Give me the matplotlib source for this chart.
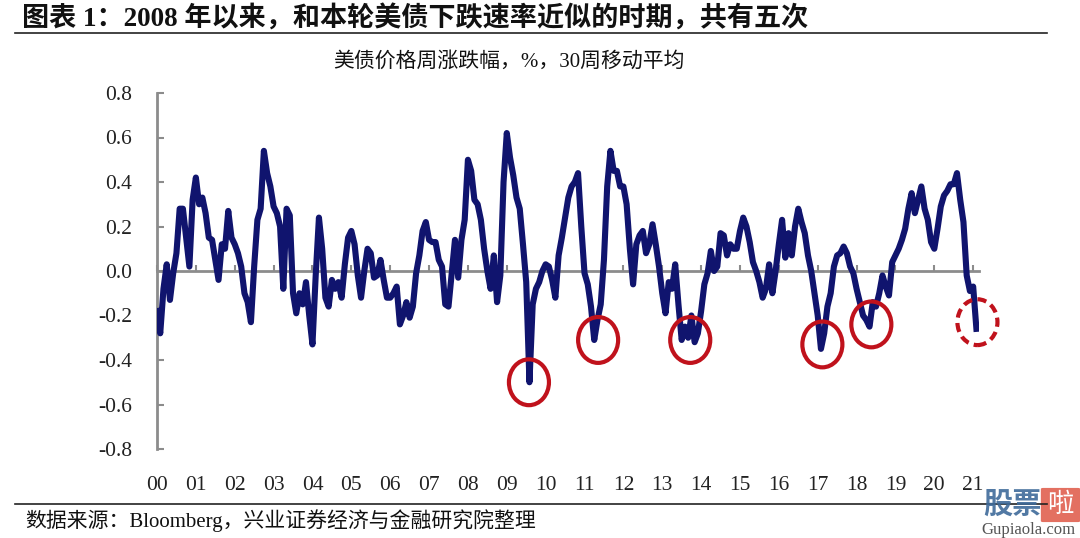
import numpy as np
import matplotlib.pyplot as plt
from matplotlib.patches import Ellipse, FancyBboxPatch
from matplotlib.lines import Line2D

plt.rcParams['font.family'] = ['Liberation Serif', 'Noto Sans CJK SC']
plt.rcParams['axes.unicode_minus'] = False

# 美债价格周涨跌幅 30周移动平均 (月度读数, 2000-01 起)
y2000 = [-0.18, -0.28, -0.08, 0.03, -0.13, -0.01, 0.08, 0.28, 0.28, 0.15, 0.02, 0.32]
y2001 = [0.42, 0.30, 0.33, 0.26, 0.15, 0.14, 0.05, -0.04, 0.12, 0.10, 0.27, 0.15]
y2002 = [0.12, 0.08, 0.02, -0.10, -0.14, -0.23, 0.02, 0.23, 0.28, 0.54, 0.44, 0.38]
y2003 = [0.29, 0.26, 0.20, -0.08, 0.28, 0.25, -0.10, -0.19, -0.10, -0.15, -0.05, -0.20]
y2004 = [-0.33, -0.02, 0.24, 0.10, -0.12, -0.16, -0.04, -0.08, -0.05, -0.12, 0.03, 0.15]
y2005 = [0.18, 0.12, -0.02, -0.12, 0.00, 0.10, 0.08, -0.03, -0.02, 0.05, -0.04, -0.12]
y2006 = [-0.12, -0.10, -0.07, -0.24, -0.20, -0.14, -0.21, -0.16, -0.01, 0.07, 0.18, 0.22]
y2007 = [0.14, 0.13, 0.13, 0.05, 0.02, -0.15, -0.16, -0.01, 0.14, -0.03, 0.14, 0.23]
y2008 = [0.50, 0.45, 0.32, 0.30, 0.23, 0.10, 0.00, -0.08, 0.07, -0.14, -0.02, 0.40]
y2009 = [0.62, 0.51, 0.43, 0.33, 0.28, 0.12, -0.05, -0.50, -0.15, -0.08, -0.05, 0.00]
y2010 = [0.03, 0.02, -0.04, -0.12, 0.07, 0.15, 0.24, 0.33, 0.38, 0.40, 0.44, 0.20]
y2011 = [-0.01, -0.06, -0.16, -0.31, -0.22, -0.15, 0.05, 0.38, 0.54, 0.45, 0.45, 0.38]
y2012 = [0.38, 0.30, 0.10, -0.06, 0.12, 0.16, 0.18, 0.08, 0.12, 0.21, 0.12, 0.02]
y2013 = [-0.10, -0.19, -0.05, -0.08, 0.03, -0.15, -0.31, -0.25, -0.30, -0.20, -0.32, -0.28]
y2014 = [-0.18, -0.06, -0.01, 0.09, 0.00, 0.02, 0.17, 0.16, 0.07, 0.12, 0.10, 0.10]
y2015 = [0.18, 0.24, 0.20, 0.13, 0.04, 0.00, -0.05, -0.12, -0.08, 0.03, -0.10, 0.00]
y2016 = [0.12, 0.23, 0.06, 0.17, 0.07, 0.20, 0.28, 0.22, 0.17, 0.07, 0.00, -0.10]
y2017 = [-0.20, -0.35, -0.28, -0.16, -0.10, 0.02, 0.07, 0.08, 0.11, 0.08, 0.02, -0.01]
y2018 = [-0.08, -0.14, -0.20, -0.22, -0.25, -0.14, -0.16, -0.10, -0.02, -0.07, -0.11, 0.04]
y2019 = [0.07, 0.10, 0.14, 0.19, 0.28, 0.35, 0.26, 0.32, 0.38, 0.28, 0.23, 0.13]
y2020 = [0.10, 0.19, 0.29, 0.34, 0.36, 0.39, 0.39, 0.44, 0.32, 0.22, -0.02, -0.09]
y2021 = [-0.07, -0.26]

vals = (y2000 + y2001 + y2002 + y2003 + y2004 + y2005 + y2006 + y2007 + y2008 + y2009 + y2010
        + y2011 + y2012 + y2013 + y2014 + y2015 + y2016 + y2017 + y2018 + y2019 + y2020 + y2021)
x = 2000 + np.arange(len(vals)) / 12

year_labels = ['%02d' % i for i in range(22)]
y_ticks = [-0.8, -0.6, -0.4, -0.2, 0.0, 0.2, 0.4, 0.6, 0.8]

# 红圈标注 (年份, 数值)
circles = [(2009.57, -0.50), (2011.35, -0.31), (2013.72, -0.31), (2017.12, -0.33), (2018.38, -0.24)]
circle_now = (2021.11, -0.23)

fig = plt.figure(figsize=(10.8, 5.38), dpi=100)
ax = fig.add_axes([157/1080, 89/538, 822/1080, 356/538])

navy = '#10146e'
red = '#c0121c'
grey = '#8c8c8c'

ax.plot(x, vals, color=navy, lw=4.4, solid_joinstyle='round', zorder=3)

for cx, cy in circles:
    ax.add_patch(Ellipse((cx, cy), 1.03, 0.206, fill=False, ec=red, lw=3, zorder=4, clip_on=False))
ax.add_patch(Ellipse(circle_now, 1.03, 0.206, fill=False, ec=red, lw=3,
                     ls=(0, (2.2, 1.3)), zorder=4, clip_on=False))

ax.set_xlim(2000, 2021.15)
ax.set_ylim(-0.8, 0.8)
ax.set_yticks(y_ticks)
ax.set_yticklabels(['%.1f' % v for v in y_ticks])

for s in ['top', 'right']:
    ax.spines[s].set_visible(False)
ax.spines['left'].set_color(grey)
ax.spines['left'].set_linewidth(2)
ax.spines['bottom'].set_position(('data', 0))
ax.spines['bottom'].set_color(grey)
ax.spines['bottom'].set_linewidth(2)
ax.spines['bottom'].set_zorder(2)

ax.tick_params(axis='y', direction='in', length=5, width=1.5, color=grey,
               labelsize=15.5, pad=18, labelcolor='#222222')
ax.set_xticks(np.arange(2000, 2022))
ax.tick_params(axis='x', direction='in', length=4, width=1.5, color=grey, labelbottom=False)

sec = ax.secondary_xaxis(-0.076)
sec.set_xticks(np.arange(2000, 2022))
sec.set_xticklabels(year_labels)
sec.tick_params(length=0, labelsize=15.5, labelcolor='#222222', pad=0)
sec.spines['bottom'].set_visible(False)

fig.text(22/1080, 1 - 19/538, '图表 1：2008 年以来，和本轮美债下跌速率近似的时期，共有五次',
         fontsize=19.5, fontweight='bold', va='center', ha='left', color='#111111')
fig.add_artist(Line2D([15/1080, 1047/1080], [1 - 33/538] * 2, color='#222222', lw=1.2))
fig.text(509/1080, 1 - 62/538, '美债价格周涨跌幅，%，30周移动平均',
         fontsize=15, va='center', ha='center', color='#111111')

fig.add_artist(Line2D([15/1080, 1047/1080], [1 - 504/538] * 2, color='#222222', lw=1.2))
fig.text(25/1080, 1 - 521/538, '数据来源：Bloomberg，兴业证券经济与金融研究院整理',
         fontsize=15, va='center', ha='left', color='#111111')

# 水印
fig.text(1012/1080, 1 - 505/538, '股票', fontsize=21, fontweight='bold', color='#3f6b9a',
         va='center', ha='center', alpha=0.9)
fig.patches.append(FancyBboxPatch((1043/1080, 1 - 521/538), 35/1080, 32/538,
                                  boxstyle='round,pad=0.002', transform=fig.transFigure,
                                  fc='#e06050', ec='none', alpha=0.9))
fig.text(1060.5/1080, 1 - 505/538, '啦', fontsize=19, color='white', va='center', ha='center')
fig.text(1028/1080, 1 - 530/538, 'Gupiaola.com', fontsize=12, color='#555555',
         va='center', ha='center')

fig.savefig('out.png', dpi=100)
